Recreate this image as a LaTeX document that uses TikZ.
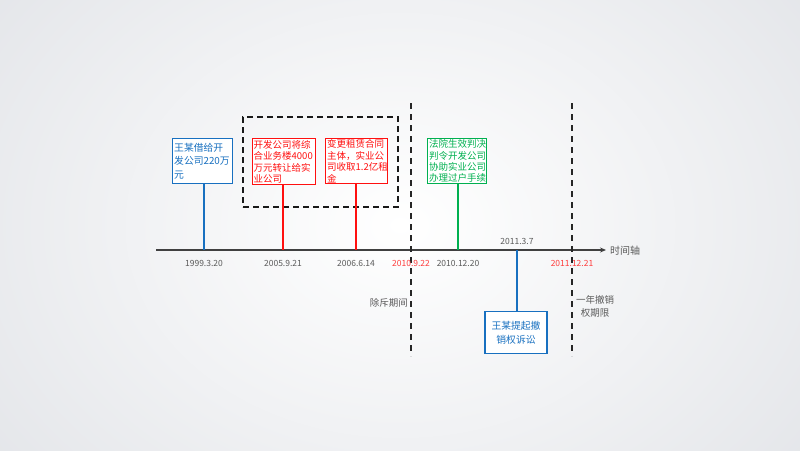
\documentclass[tikz,border=0pt]{standalone}
\usepackage{fontspec}
\setmainfont{Noto Sans CJK SC}
\usetikzlibrary{arrows.meta}
\definecolor{cblue}{RGB}{24,112,192}
\definecolor{cred}{RGB}{255,16,16}
\definecolor{cgreen}{RGB}{0,176,80}
\definecolor{cgray}{RGB}{90,90,90}
\definecolor{cdate}{RGB}{255,60,60}
\definecolor{bgout}{RGB}{226,228,232}
\tikzset{
  evbox/.style={draw, line width=1.4pt, fill=white, inner xsep=1.5pt, inner ysep=1pt, align=left,
    font=\fontsize{9.5}{11.4}\selectfont, text width=#1, anchor=north west},
  conn/.style={line width=1.4pt},
  datelbl/.style={font=\fontsize{8.5}{10}\selectfont, text=cgray, inner sep=0pt},
  reddate/.style={datelbl, text=cdate},
  sidelbl/.style={font=\fontsize{9.5}{13}\selectfont, text=cgray, inner sep=0pt, align=center},
  periodline/.style={line width=1.5pt, draw=black!85, dash pattern=on 6pt off 5pt},
}
\begin{document}
\begin{tikzpicture}[x=1pt,y=-1pt]
\useasboundingbox (0,0) rectangle (800,450);
\shade[inner color=white, outer color=bgout] (-150,-200) rectangle (950,650);
% axis
\coordinate (axL) at (156,250);
\coordinate (axR) at (606,250);
\draw[line width=1.3pt, draw=black!75, -{Stealth[length=6pt,width=5pt]}] (axL) -- (axR);
\node[sidelbl, anchor=west, font=\fontsize{10}{12}\selectfont] (axlbl) at (610,251) {时间轴};
% tick coordinates
\coordinate (t1) at (204,250);
\coordinate (t2) at (283,250);
\coordinate (t3) at (356,250);
\coordinate (t4) at (458,250);
\coordinate (t5) at (517,250);
% dashed period lines
\coordinate (d1t) at (411,103);
\coordinate (d1b) at (411,356);
\coordinate (d2t) at (572,103);
\coordinate (d2b) at (572,356);
\draw[periodline] (d1t) -- (d1b);
\draw[periodline] (d2t) -- (d2b);
% dashed group
\node[draw=black!90, line width=1.5pt, dash pattern=on 6pt off 4pt, minimum width=155pt, minimum height=90pt, inner sep=0pt] (grp) at (320.5,162) {};
% boxes
\node[evbox=57pt, draw=cblue, text=cblue, minimum height=45pt, font=\fontsize{9.8}{13.5}\selectfont] (b1) at (172,138) {王某借给开\\发公司220万\\元};
\node[evbox=60pt, draw=cred, text=cred, minimum height=46pt] (b2) at (251.5,138) {开发公司将综\\合业务楼4000\\万元转让给实\\业公司};
\node[evbox=59pt, draw=cred, text=cred, minimum height=45pt] (b3) at (325,138) {变更租赁合同\\主体，实业公\\司收取1.2亿租\\金};
\node[evbox=56pt, draw=cgreen, text=cgreen, minimum height=45pt] (b4) at (427,138) {法院生效判决\\判令开发公司\\协助实业公司\\办理过户手续};
\node[draw=cblue, line width=1.4pt, fill=white, text=cblue, align=center, font=\fontsize{9.8}{14.5}\selectfont, minimum width=62pt, minimum height=42pt, inner sep=1pt, anchor=north] (b5) at (516,311) {王某提起撤\\销权诉讼};
% connectors
\draw[conn, cblue] (b1.south -| t1) -- (t1);
\draw[conn, cred] (b2.south -| t2) -- (t2);
\draw[conn, cred] (b3.south -| t3) -- (t3);
\draw[conn, cgreen] (b4.south -| t4) -- (t4);
\draw[conn, cblue] (t5) -- (b5.north -| t5);
% date labels
\node[datelbl] (l1) at (204,263) {1999.3.20};
\node[datelbl] (l2) at (283,263) {2005.9.21};
\node[datelbl] (l3) at (356,263) {2006.6.14};
\node[reddate] (l4) at (411,263) {2010.9.22};
\node[datelbl] (l5) at (458,263) {2010.12.20};
\node[datelbl] (l6) at (517,241) {2011.3.7};
\node[reddate] (l7) at (572,263) {2011.12.21};
% side labels
\node[sidelbl, anchor=east] (p1) at (408,303) {除斥期间};
\node[sidelbl, anchor=north] (p2) at (595,295) {一年撤销\\权期限};
\end{tikzpicture}
\end{document}
